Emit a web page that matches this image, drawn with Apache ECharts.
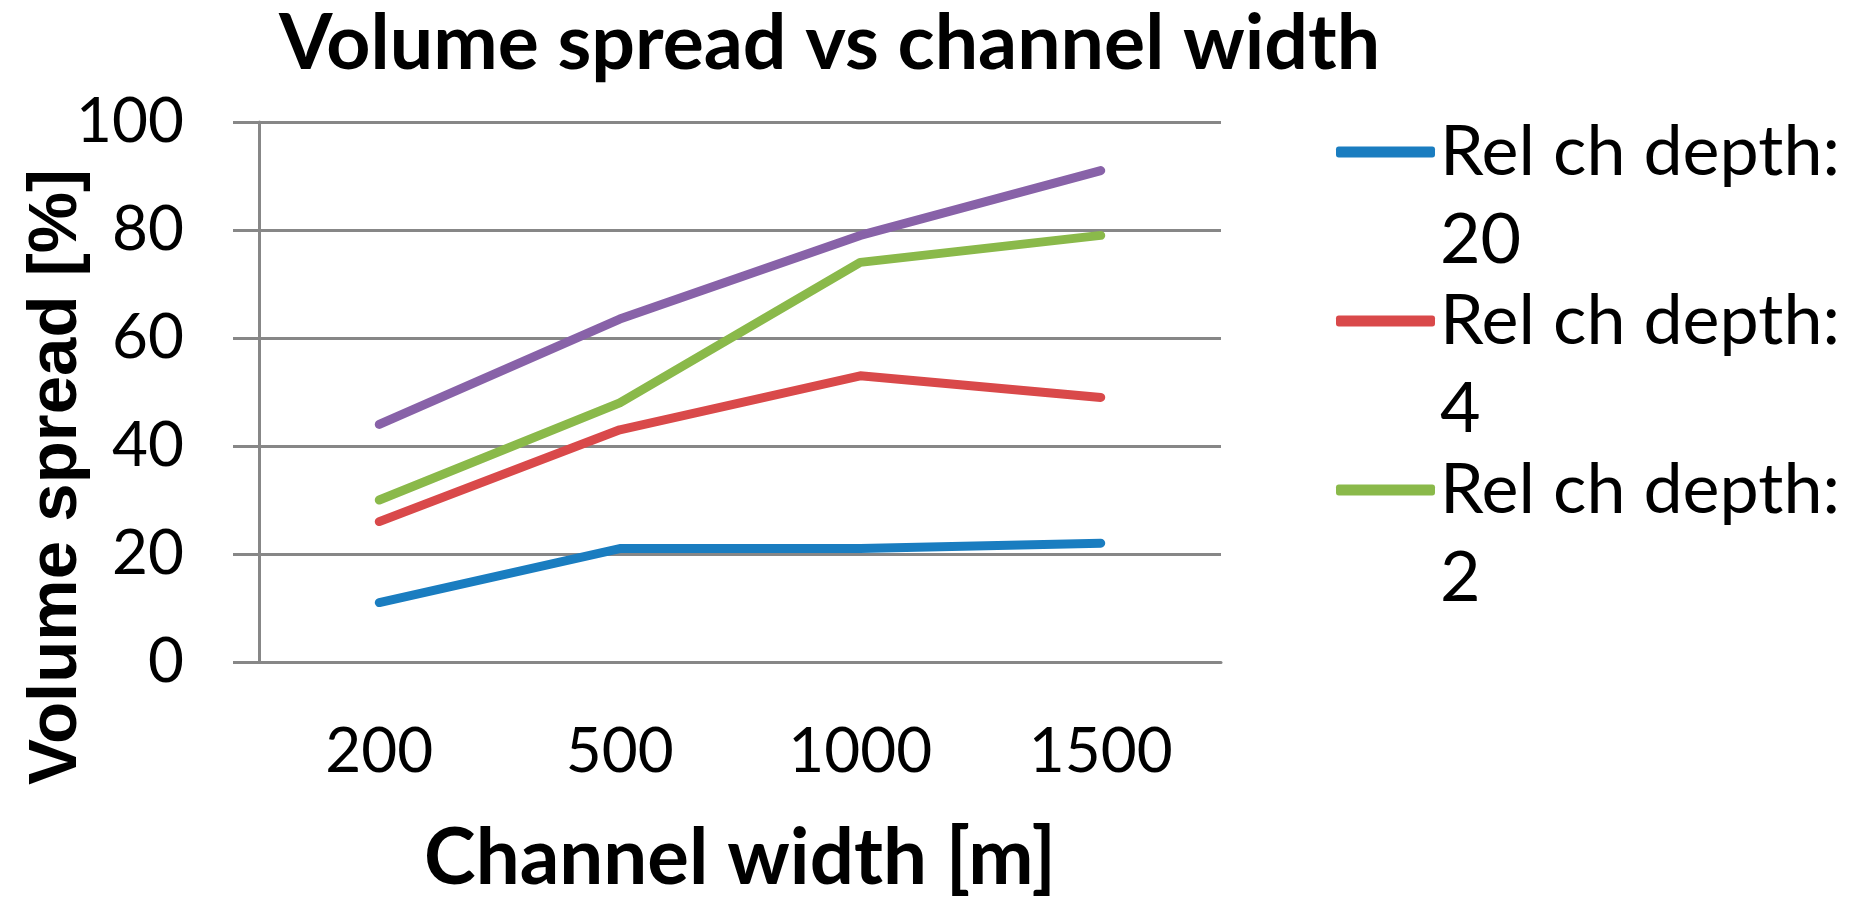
<!DOCTYPE html>
<html>
<head>
<meta charset="utf-8">
<script src="https://cdn.jsdelivr.net/npm/echarts@6/dist/echarts.min.js"></script>
<style>
  html, body { margin: 0; padding: 0; background: #ffffff; }
  #chart { width: 1854px; height: 906px; }
</style>
</head>
<body>
<div id="chart"></div>
<script>
// Channel widths on the x axis
const categories = ['200', '500', '1000', '1500'];

// Volume spread [%] for each relative channel depth
const depth20 = [11, 21, 21, 22];
const depth4 = [26, 43, 53, 49];
const depth2 = [30, 48, 74, 79];
const depth1 = [44, 63.5, 79, 91];

const seriesNames = ['Rel ch depth: 20', 'Rel ch depth: 4', 'Rel ch depth: 2', 'Rel ch depth: 1'];
const seriesColors = ['#1a7dc0', '#d9494a', '#8ab94a', '#8862a8'];
const seriesValues = [depth20, depth4, depth2, depth1];

const gridGray = '#878787';
const font = 'Lato';

const chart = echarts.init(document.getElementById('chart'), null, { renderer: 'canvas' });

chart.setOption({
  backgroundColor: '#ffffff',
  animation: false,
  title: {
    text: 'Volume spread vs channel width',
    left: 279,
    top: 6,
    padding: 0,
    textStyle: { fontFamily: font, fontWeight: 'bold', fontSize: 77, color: '#000' }
  },
  legend: {
    data: seriesNames.slice(0, 3),
    orient: 'vertical',
    left: 1336,
    top: 29,
    padding: 0,
    itemGap: -77,
    itemWidth: 99,
    itemHeight: 11,
    icon: 'roundRect',
    // blank first line keeps the icon level with the "Rel ch depth:" line
    formatter: name => {
      const parts = name.split(': ');
      return '{s| }\n{t|' + parts[0] + ':}\n{t|' + parts[1] + '}';
    },
    textStyle: {
      fontFamily: font, fontSize: 70, color: '#000',
      rich: {
        s: { fontFamily: font, fontSize: 70, lineHeight: 88 },
        t: { fontFamily: font, fontSize: 70, lineHeight: 88, color: '#000' }
      }
    }
  },
  grid: {
    left: 259, right: 633, top: 122, bottom: 244,
    containLabel: false,
    outerBoundsMode: 'none'
  },
  xAxis: {
    type: 'category',
    data: categories,
    boundaryGap: true,
    name: 'Channel width [m]',
    nameLocation: 'middle',
    nameGap: 158,
    nameMoveOverlap: false,
    nameTextStyle: { fontFamily: font, fontWeight: 'bold', fontSize: 78, color: '#000' },
    axisLine: { show: true, lineStyle: { color: gridGray, width: 3 } },
    axisTick: { show: false },
    axisLabel: { fontFamily: font, fontSize: 62, color: '#000', margin: 59 }
  },
  yAxis: {
    type: 'value',
    min: 0,
    max: 100,
    interval: 20,
    name: 'Volume spread [%]',
    nameLocation: 'middle',
    nameRotate: 90,
    nameGap: 168,
    nameMoveOverlap: false,
    nameTextStyle: {
      fontFamily: 'Liberation Sans', fontWeight: 'bold', fontSize: 69, color: '#000',
      padding: [0, 170, 0, 0]
    },
    axisLine: { show: true, lineStyle: { color: gridGray, width: 3 } },
    axisTick: { show: true, length: 26, lineStyle: { color: gridGray, width: 3 } },
    axisLabel: { fontFamily: font, fontSize: 62, color: '#000', margin: 75 },
    splitLine: { show: true, lineStyle: { color: gridGray, width: 3 } }
  },
  series: seriesValues.map((vals, i) => ({
    name: seriesNames[i],
    type: 'line',
    data: vals,
    color: seriesColors[i],
    showSymbol: false,
    symbol: 'none',
    lineStyle: { width: 9, color: seriesColors[i], cap: 'round', join: 'round' },
    z: 2 + i
  }))
});
</script>
</body>
</html>
